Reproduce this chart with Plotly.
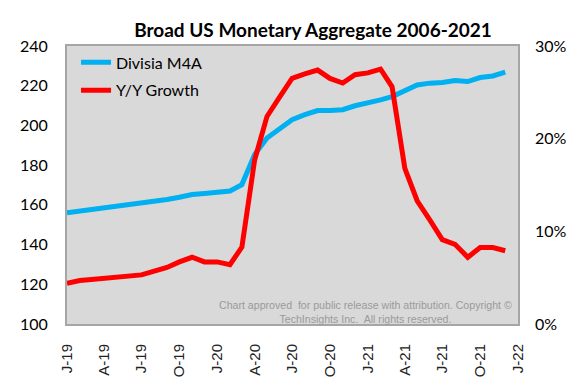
import plotly.graph_objects as go
import pandas as pd

# ---- data ----
months = pd.date_range("2019-01-01", periods=36, freq="MS")
divisia_m4a = [156.0, 156.8, 157.6, 158.3, 159.1, 160.0, 160.9, 161.8, 162.7, 163.8,
               165.2, 165.7, 166.5, 167.0, 170.2, 185.3, 193.7, 198.7, 202.9, 205.4,
               207.5, 207.5, 207.9, 209.9, 211.2, 212.9, 214.5, 217.5, 220.4, 221.3,
               221.6, 222.6, 222.1, 224.1, 224.9, 226.8]
yoy_growth_pct = [4.4, 4.7, 4.8, 4.9, 5.0, 5.1, 5.3, 5.7, 6.1, 6.7,
                  7.2, 6.7, 6.7, 6.4, 8.3, 17.7, 22.4, 24.5, 26.5, 27.0,
                  27.4, 26.5, 26.0, 26.9, 27.1, 27.5, 25.6, 16.8, 13.3, 11.2,
                  9.1, 8.6, 7.2, 8.25, 8.25, 7.9]
tick_dates = ["2019-01-01", "2019-04-01", "2019-07-01", "2019-10-01",
              "2020-01-01", "2020-04-01", "2020-07-01", "2020-10-01",
              "2021-01-01", "2021-04-01", "2021-07-01", "2021-10-01", "2022-01-01"]
tick_labels = ["J-19", "A-19", "J-19", "O-19", "J-20", "A-20", "J-20", "O-20",
               "J-21", "A-21", "J-21", "O-21", "J-22"]

yoy_growth = [v / 100 for v in yoy_growth_pct]

fig = go.Figure()
fig.add_trace(go.Scatter(x=months, y=divisia_m4a, mode="lines", name="Divisia M4A",
                         line=dict(color="#00B0F0", width=5), legendgroup="a"))
fig.add_trace(go.Scatter(x=months, y=yoy_growth, mode="lines", name="Y/Y Growth",
                         line=dict(color="#FF0000", width=5), yaxis="y2", legendgroup="b"))

# page body has an 8px margin
OFF = 8
W, H = 579 - OFF, 389 - OFF
fig.update_layout(
    width=W, height=H,
    margin=dict(l=58 - OFF, r=57, t=46 - OFF, b=64, pad=0),
    paper_bgcolor="white",
    plot_bgcolor="#D9D9D9",
    title=dict(text="<b>Broad US Monetary Aggregate 2006-2021</b>",
               x=(313 - OFF) / W, xref="container", xanchor="center",
               y=1 - (30 - OFF) / H, yref="container", yanchor="middle",
               font=dict(family="Lato", size=19, color="black")),
    showlegend=True,
    legend=dict(x=0.02, y=1.002, xanchor="left", yanchor="top",
                bgcolor="rgba(0,0,0,0)", font=dict(family="Lato", size=16, color="black"),
                traceorder="grouped", tracegroupgap=4, itemwidth=30),
    xaxis=dict(type="date", range=["2019-01-01", "2022-01-01"],
               tickvals=tick_dates, ticktext=tick_labels, tickangle=-90,
               tickfont=dict(family="Liberation Sans", size=15, color="#222"),
               showgrid=False, zeroline=False, showline=True, mirror=True,
               linecolor="#A6A6A6", linewidth=2, ticks="", ticklabelstandoff=12),
    yaxis=dict(range=[100, 240], dtick=20, showgrid=False, zeroline=False,
               showline=True, mirror=True, linecolor="#A6A6A6", linewidth=2,
               tickfont=dict(family="Lato", size=16, color="black"),
               ticks="", ticklabelstandoff=14),
    yaxis2=dict(range=[0, 0.30], dtick=0.10, tickformat=".0%", overlaying="y",
                side="right", showgrid=False, zeroline=False, showline=False,
                tickfont=dict(family="Lato", size=16, color="black"),
                ticks="", ticklabelstandoff=16),
    annotations=[dict(text="Chart approved  for public release with attribution. Copyright ©<br>"
                           "TechInsights Inc.  All rights reserved.",
                      xref="paper", yref="paper", x=(365 - 58) / 464, y=0.0, yshift=-3,
                      xanchor="center", yanchor="bottom", showarrow=False,
                      align="center",
                      font=dict(family="Liberation Sans", size=10.6, color="#9A9A9A"))],
)

fig.write_html("out.html")
